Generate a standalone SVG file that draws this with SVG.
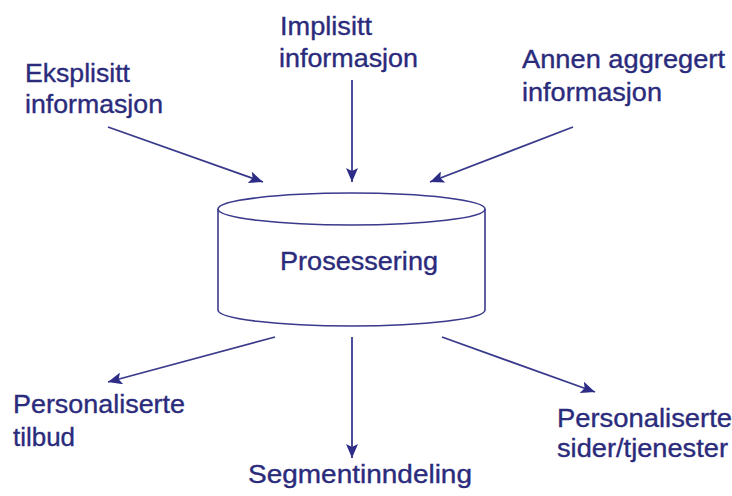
<svg xmlns="http://www.w3.org/2000/svg" width="732" height="496" viewBox="0 0 732 496">
<style>
.t{font-family:"Liberation Sans",Arial,sans-serif;font-size:25px;fill:#2b2b7c;stroke:#2b2b7c;stroke-width:0.35}
.c{fill:none;stroke:#3a3a8c;stroke-width:1.6}
.a{fill:none;stroke:#3a3a8c;stroke-width:1.8;marker-end:url(#ah)}
</style>
<defs>
<marker id="ah" viewBox="0 0 14 12" refX="14" refY="6" markerWidth="14" markerHeight="12" markerUnits="userSpaceOnUse" orient="auto">
<path d="M0,0 L14,6 L0,12 L3,6 Z" fill="#2d2d88"/>
</marker>
</defs>
<rect width="732" height="496" fill="#ffffff"/>
<g id="connectors">
<line class="a" x1="108" y1="127" x2="263" y2="182"/>
<line class="a" x1="352" y1="80" x2="352" y2="182"/>
<line class="a" x1="573" y1="127" x2="430" y2="182"/>
<line class="a" x1="275" y1="337" x2="108" y2="382"/>
<line class="a" x1="352" y1="337" x2="352" y2="458"/>
<line class="a" x1="442" y1="337" x2="595" y2="392"/>
</g>
<g id="prosessering">
<path class="c" d="M218,209 L218,310 A133.5,16 0 0 0 485,310 L485,209"/>
<ellipse class="c" cx="351.5" cy="209" rx="133.5" ry="16" fill="#fff"/>
<text class="t" x="280" y="270" textLength="158" lengthAdjust="spacingAndGlyphs">Prosessering</text>
</g>
<g id="eksplisitt">
<text class="t" x="25" y="82" textLength="105" lengthAdjust="spacingAndGlyphs">Eksplisitt</text>
<text class="t" x="25" y="113" textLength="138" lengthAdjust="spacingAndGlyphs">informasjon</text>
</g>
<g id="implisitt">
<text class="t" x="280" y="35" textLength="92" lengthAdjust="spacingAndGlyphs">Implisitt</text>
<text class="t" x="279" y="67" textLength="139" lengthAdjust="spacingAndGlyphs">informasjon</text>
</g>
<g id="annen">
<text class="t" x="522" y="68" textLength="203" lengthAdjust="spacingAndGlyphs">Annen aggregert</text>
<text class="t" x="522" y="101" textLength="140" lengthAdjust="spacingAndGlyphs">informasjon</text>
</g>
<g id="tilbud">
<text class="t" x="13" y="413" textLength="172" lengthAdjust="spacingAndGlyphs">Personaliserte</text>
<text class="t" x="13" y="446" textLength="62" lengthAdjust="spacingAndGlyphs">tilbud</text>
</g>
<g id="segment">
<text class="t" x="248" y="483" textLength="224" lengthAdjust="spacingAndGlyphs">Segmentinndeling</text>
</g>
<g id="sider">
<text class="t" x="557" y="427" textLength="175" lengthAdjust="spacingAndGlyphs">Personaliserte</text>
<text class="t" x="557" y="457" textLength="171" lengthAdjust="spacingAndGlyphs">sider/tjenester</text>
</g>
</svg>
